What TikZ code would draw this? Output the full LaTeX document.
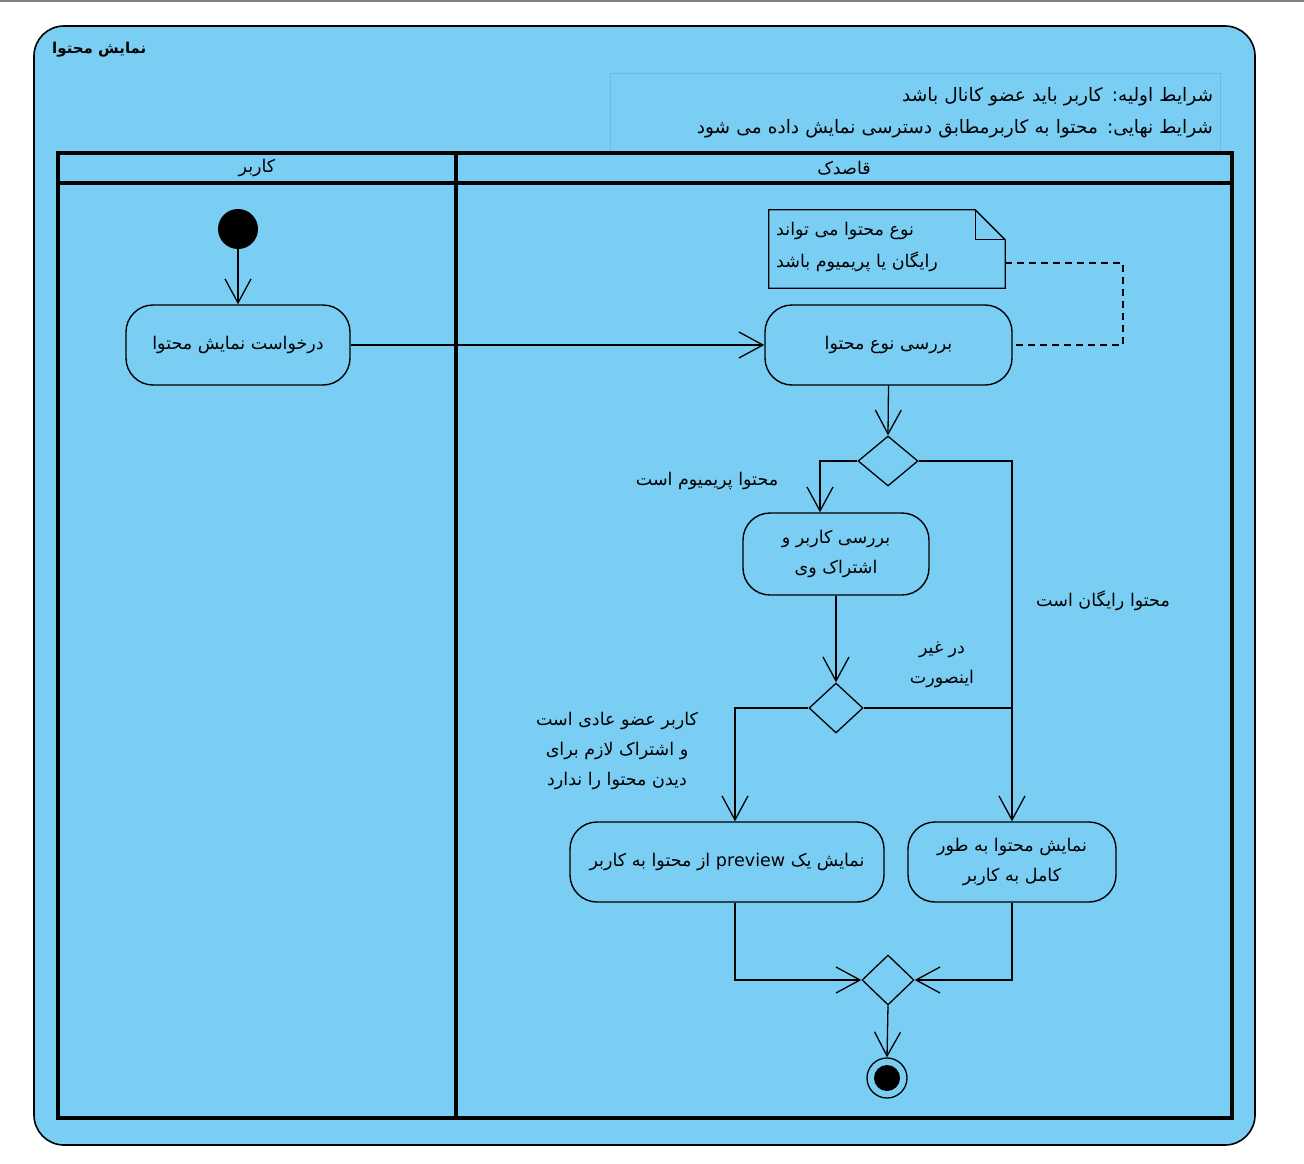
\documentclass[tikz,border=0pt]{standalone}
\usepackage{fontspec}
\setmainfont{Liberation Sans}
\newfontfamily\arabicfont[Script=Arabic]{DejaVu Sans}
\TeXXeTstate=1
\usetikzlibrary{arrows.meta,shapes.geometric}
\newcommand\fa[1]{\beginR #1\endR}
\definecolor{bgblue}{RGB}{123,206,243}
\definecolor{prebord}{RGB}{105,185,225}
\tikzset{
  txt/.style={font=\arabicfont\fontsize{17.5}{30}\selectfont, align=center, inner sep=0pt},
  action/.style={draw, line width=1.4pt, rounded corners=27pt, minimum height=80pt, txt},
  decision/.style={diamond, draw, line width=1.3pt, inner sep=0pt},
  conn/.style={line width=1.3pt},
  arr/.style={conn, -{Straight Barb[length=24pt,width=26pt,line width=1.3pt]}},
  lane/.style={line width=3.2pt},
}
\begin{document}
\begin{tikzpicture}[x=1pt,y=-1pt]
\useasboundingbox (0,0) rectangle (1304,1164);
\fill[white] (0,0) rectangle (1304,1164);
\draw[gray, line width=1.5pt] (0,1) -- (1304,1);
% outer frame
\draw[fill=bgblue, line width=1.6pt, rounded corners=30pt] (34,26) rectangle (1255,1145);
\node[txt, font=\arabicfont\bfseries\fontsize{15}{18}\selectfont, anchor=west] (title) at (52,50) {\fa{نمایش محتوا}};
% preconditions
\node[draw=prebord, line width=0.6pt, minimum width=610pt, minimum height=79pt, text width=596pt, align=right,
      font=\arabicfont\fontsize{18.5}{32}\selectfont] (pre) at (915,112.5)
  {\fa{شرایط اولیه: کاربر باید عضو کانال باشد}\\\fa{شرایط نهایی: محتوا به کاربرمطابق دسترسی نمایش داده می شود}};
% swimlanes
\draw[lane] (58,153) rectangle (1232,1118);
\draw[lane] (58,183) -- (1232,183);
\draw[lane] (456,153) -- (456,1118);
\node[txt] (lane1) at (257,168) {\fa{کاربر}};
\node[txt] (lane2) at (844,168) {\fa{قاصدک}};
% nodes
\node[circle, fill=black, minimum size=40pt, inner sep=0pt] (init) at (238,229) {};
\node[action, minimum width=224pt] (a1) at (238,345) {\fa{درخواست نمایش محتوا}};
\node[action, minimum width=247pt] (a2) at (888.5,345) {\fa{بررسی نوع محتوا}};
\node[minimum width=236pt, minimum height=78pt, inner sep=0pt] (note) at (887,249) {};
\node[txt, anchor=west, align=left, font=\arabicfont\fontsize{17.5}{32}\selectfont] (notetext) at (776,247)
  {\fa{نوع محتوا می تواند}\\\fa{رایگان یا پریمیوم باشد}};
\node[decision, minimum width=60pt, minimum height=50pt] (d1) at (888,461) {};
\node[action, minimum width=186pt, minimum height=82pt] (a3) at (836,554) {\fa{بررسی کاربر و}\\\fa{اشتراک وی}};
\node[decision, minimum width=54pt, minimum height=50pt] (d2) at (836,708) {};
\node[action, minimum width=314pt] (a4) at (727,862) {\fa{نمایش یک \beginL preview\endL{} از محتوا به کاربر}};
\node[action, minimum width=208pt] (a5) at (1012,862) {\fa{نمایش محتوا به طور}\\\fa{کامل به کاربر}};
\node[decision, minimum width=52pt, minimum height=50pt] (m) at (888,980) {};
\node[circle, draw, line width=1.3pt, minimum size=40pt, inner sep=0pt] (fin) at (887,1078) {};
\node[circle, fill=black, minimum size=26pt, inner sep=0pt] (finin) at (fin) {};
% guards
\node[txt] (g1) at (707,481) {\fa{محتوا پریمیوم است}};
\node[txt] (g2) at (1103,601) {\fa{محتوا رایگان است}};
\node[txt] (g3) at (942,665) {\fa{در غیر}\\\fa{اینصورت}};
\node[txt] (g4) at (617,751) {\fa{کاربر عضو عادی است}\\\fa{و اشتراک لازم برای}\\\fa{دیدن محتوا را ندارد}};
% note outline
\draw[line width=1.3pt] (note.north west) -- ([xshift=-30pt]note.north east) -- ([yshift=-30pt]note.north east)
   -- (note.south east) -- (note.south west) -- cycle;
\draw[line width=1.3pt] ([xshift=-30pt]note.north east) |- ([yshift=-30pt]note.north east);
\coordinate (nc) at (1123,263);
\draw[conn, dash pattern=on 7pt off 5pt] (note.east |- nc) -- (nc) |- (a2.east);
% connectors
\draw[arr] (init) -- (a1);
\draw[arr] (a1.east) -- (a2.west);
\draw[arr] (a2.south) -- (d1.north);
\draw[arr] (d1.west) -| ([xshift=-16pt]a3.north);
\draw[arr] (d1.east) -| (a5.north);
\draw[arr] (a3.south) -- (d2.north);
\draw[conn] (d2.east) -- (d2.east -| a5.north);
\draw[arr] (d2.west) -| ([xshift=8pt]a4.north);
\draw[arr] ([xshift=8pt]a4.south) |- (m.west);
\draw[arr] (a5.south) |- (m.east);
\draw[arr] (m.south) -- (fin.north);
\end{tikzpicture}
\end{document}
